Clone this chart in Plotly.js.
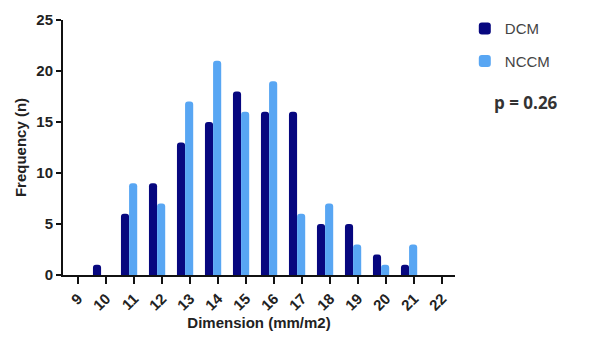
<!DOCTYPE html>
<html>
<head>
<meta charset="utf-8">
<script src="https://cdn.plot.ly/plotly-3.0.1.min.js"></script>
<style>html,body{margin:0;padding:0;background:#fff;}#chart{width:590px;height:338px;}</style>
</head>
<body>
<div id="chart"></div>
<script>
const dimensions = [9, 10, 11, 12, 13, 14, 15, 16, 17, 18, 19, 20, 21, 22];
const dcmCounts  = [0, 1, 6, 9, 13, 15, 18, 16, 16, 5, 5, 2, 1, 0];
const nccmCounts = [0, 0, 9, 7, 17, 21, 16, 19, 6, 7, 3, 1, 3, 0];
const yTicks = [0, 5, 10, 15, 20, 25];
const pLabel = 'p = 0.26';

const font = 'Liberation Sans, Arial, sans-serif';

const traces = [
  {type: 'bar', name: 'DCM', legendgroup: 'a', x: dimensions, y: dcmCounts, width: 0.29, offset: -0.47,
   marker: {color: '#07077f', cornerradius: 3}},
  {type: 'bar', name: 'NCCM', legendgroup: 'b', x: dimensions, y: nccmCounts, width: 0.29, offset: -0.18,
   marker: {color: '#58a6f3', cornerradius: 3}}
];

const layout = {
  width: 590, height: 338,
  margin: {l: 63, r: 135, t: 15, b: 63},
  paper_bgcolor: '#fff', plot_bgcolor: '#fff',
  barmode: 'overlay',
  showlegend: true,
  legend: {x: 1.025, y: 1.03, xanchor: 'left', yanchor: 'top',
           font: {family: font, size: 15, color: '#444'},
           itemwidth: 30, tracegroupgap: 10},
  xaxis: {
    range: [8.46, 22.46], tickmode: 'array', tickvals: dimensions, ticktext: dimensions.map(String),
    tickangle: -45, ticks: 'outside', ticklen: 7, tickwidth: 2, tickcolor: '#111',
    showline: true, linecolor: '#111', linewidth: 2, showgrid: false, zeroline: false,
    tickfont: {family: font, size: 15, color: '#222', weight: 'bold'},
    title: {text: 'Dimension (mm/m2)', font: {family: font, size: 15, color: '#222', weight: 'bold'}, standoff: 4}
  },
  yaxis: {
    range: [0, 25], tickmode: 'array', tickvals: yTicks,
    ticks: 'outside', ticklen: 5, tickwidth: 2, tickcolor: '#111',
    showline: true, linecolor: '#111', linewidth: 2, showgrid: false, zeroline: false,
    tickfont: {family: font, size: 15, color: '#222', weight: 'bold'},
    title: {text: 'Frequency (n)', font: {family: font, size: 15, color: '#222', weight: 'bold'}, standoff: 6}
  },
  annotations: [
    {text: pLabel, xref: 'paper', yref: 'paper', x: 1.095, y: 0.675, xanchor: 'left', yanchor: 'middle',
     showarrow: false, font: {family: 'Open Sans, sans-serif', size: 17, color: '#333', weight: 'bold'}}
  ]
};

Plotly.newPlot('chart', traces, layout, {displayModeBar: false, staticPlot: true});
</script>
</body>
</html>
